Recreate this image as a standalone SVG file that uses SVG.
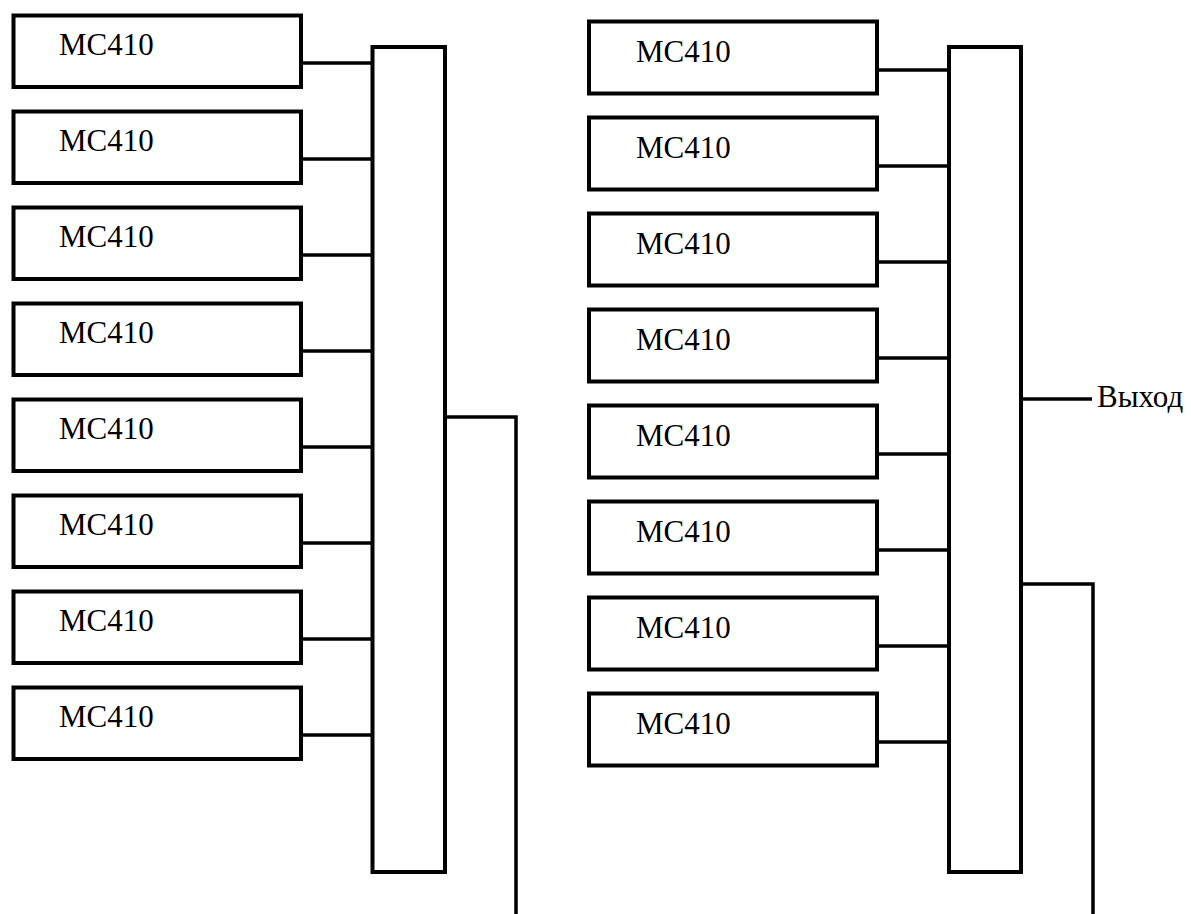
<svg xmlns="http://www.w3.org/2000/svg" width="1191" height="914" viewBox="0 0 1191 914">
  <style>
    .box { fill: #ffffff; stroke: #000000; stroke-width: 4; }
    .bus { fill: #ffffff; stroke: #000000; stroke-width: 4; }
    .wire { fill: none; stroke: #000000; stroke-width: 3.5; stroke-linejoin: miter; stroke-linecap: butt; }
    .lbl { font-size: 31px; fill: #000000; }
  </style>
  <rect width="1191" height="914" fill="#ffffff"/>

  <!-- connectors -->
  <g id="connectors">
    <!-- left column: modules to left bus -->
    <path class="wire" d="M301 63H372.5 M301 159H372.5 M301 255H372.5 M301 351H372.5 M301 447H372.5 M301 543H372.5 M301 639H372.5 M301 735H372.5"/>
    <!-- left bus output -->
    <polyline class="wire" points="445,417 516,417 516,914"/>
    <!-- right column: modules to right bus -->
    <path class="wire" d="M877 70H949 M877 166H949 M877 262H949 M877 358H949 M877 454H949 M877 550H949 M877 646H949 M877 742H949"/>
    <!-- right bus output line -->
    <polyline class="wire" points="1021,584 1093,584 1093,914"/>
    <!-- output label lead -->
    <line class="wire" x1="1021" y1="399" x2="1092" y2="399"/>
  </g>

  <g font-family="'Liberation Serif', 'DejaVu Serif', serif">
  <!-- left column modules -->
  <g id="left-mc410-1"><rect class="box" x="13.5" y="15.5" width="287.5" height="71.5"/><text class="lbl" x="59" y="55">MC410</text></g>
  <g id="left-mc410-2"><rect class="box" x="13.5" y="111.5" width="287.5" height="71.5"/><text class="lbl" x="59" y="151">MC410</text></g>
  <g id="left-mc410-3"><rect class="box" x="13.5" y="207.5" width="287.5" height="71.5"/><text class="lbl" x="59" y="247">MC410</text></g>
  <g id="left-mc410-4"><rect class="box" x="13.5" y="303.5" width="287.5" height="71.5"/><text class="lbl" x="59" y="343">MC410</text></g>
  <g id="left-mc410-5"><rect class="box" x="13.5" y="399.5" width="287.5" height="71.5"/><text class="lbl" x="59" y="439">MC410</text></g>
  <g id="left-mc410-6"><rect class="box" x="13.5" y="495.5" width="287.5" height="71.5"/><text class="lbl" x="59" y="535">MC410</text></g>
  <g id="left-mc410-7"><rect class="box" x="13.5" y="591.5" width="287.5" height="71.5"/><text class="lbl" x="59" y="631">MC410</text></g>
  <g id="left-mc410-8"><rect class="box" x="13.5" y="687.5" width="287.5" height="71.5"/><text class="lbl" x="59" y="727">MC410</text></g>

  <!-- left bus -->
  <g id="left-bus"><rect class="bus" x="372.5" y="47" width="72.5" height="825"/></g>

  <!-- right column modules -->
  <g id="right-mc410-1"><rect class="box" x="589" y="21.5" width="288" height="72"/><text class="lbl" x="636" y="62">MC410</text></g>
  <g id="right-mc410-2"><rect class="box" x="589" y="117.5" width="288" height="72"/><text class="lbl" x="636" y="158">MC410</text></g>
  <g id="right-mc410-3"><rect class="box" x="589" y="213.5" width="288" height="72"/><text class="lbl" x="636" y="254">MC410</text></g>
  <g id="right-mc410-4"><rect class="box" x="589" y="309.5" width="288" height="72"/><text class="lbl" x="636" y="350">MC410</text></g>
  <g id="right-mc410-5"><rect class="box" x="589" y="405.5" width="288" height="72"/><text class="lbl" x="636" y="446">MC410</text></g>
  <g id="right-mc410-6"><rect class="box" x="589" y="501.5" width="288" height="72"/><text class="lbl" x="636" y="542">MC410</text></g>
  <g id="right-mc410-7"><rect class="box" x="589" y="597.5" width="288" height="72"/><text class="lbl" x="636" y="638">MC410</text></g>
  <g id="right-mc410-8"><rect class="box" x="589" y="693.5" width="288" height="72"/><text class="lbl" x="636" y="734">MC410</text></g>

  <!-- right bus -->
  <g id="right-bus"><rect class="bus" x="949" y="47" width="72" height="825"/></g>

  <!-- output label -->
  <g id="output-label"><text class="lbl" x="1097" y="407">Выход</text></g>
  </g>
</svg>
